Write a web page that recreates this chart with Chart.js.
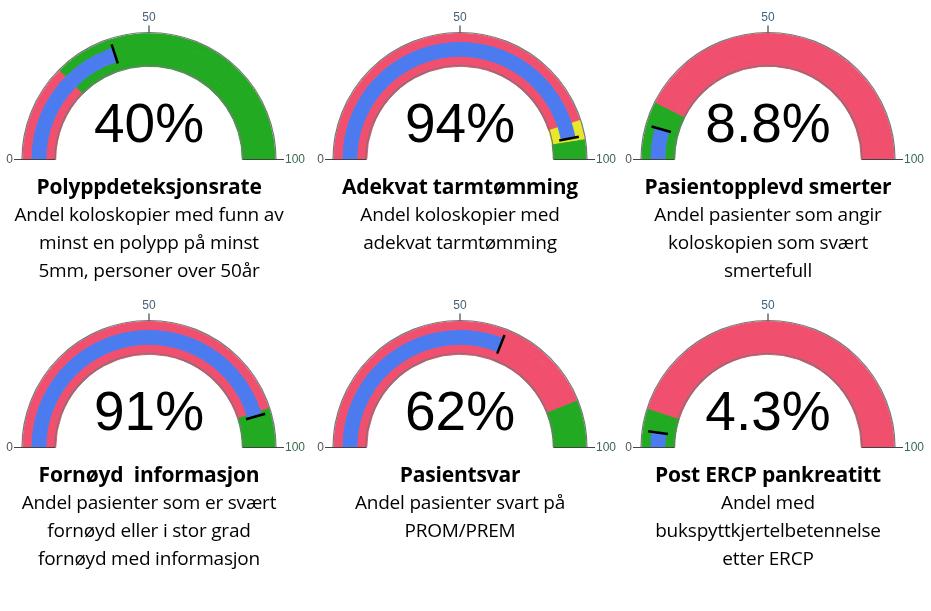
<!DOCTYPE html>
<html><head><meta charset="utf-8">
<script src="https://cdn.jsdelivr.net/npm/chart.js@4"></script>
<style>
body{margin:0;background:#fff;width:931px;height:611px;position:relative;overflow:hidden;font-family:"Open Sans","Noto Sans",sans-serif}
canvas{position:absolute}
.t{position:absolute;width:320px;text-align:center;color:#000;white-space:pre}
.h{font-weight:bold;font-size:21px;letter-spacing:-0.2px}
.s{font-size:19px;line-height:28px;letter-spacing:-0.2px}
.big{position:absolute;width:200px;text-align:center;font-family:"Liberation Sans",Arial,sans-serif;font-size:55px;color:#000}
</style></head><body>
<script>
const titles=["Polyppdeteksjonsrate","Adekvat tarmtømming","Pasientopplevd smerter","Fornøyd  informasjon","Pasientsvar","Post ERCP pankreatitt"];
const subtitles=[["Andel koloskopier med funn av","minst en polypp på minst","5mm, personer over 50år"],["Andel koloskopier med","adekvat tarmtømming"],["Andel pasienter som angir","koloskopien som svært","smertefull"],["Andel pasienter som er svært","fornøyd eller i stor grad","fornøyd med informasjon"],["Andel pasienter svart på","PROM/PREM"],["Andel med","bukspyttkjertelbetennelse","etter ERCP"]];
const values=[40,94,8.8,91,62,4.3];
const valueLabels=["40%","94%","8.8%","91%","62%","4.3%"];
const zoneBounds=[[25,100],[90,95,100],[15,100],[90,100],[88,100],[10,100]];
const zoneColors=[["red","green"],["red","yellow","green"],["green","red"],["red","green"],["red","green"],["green","red"]];
const tickLabels=["0","50","100"];
const COL={red:"#f0506e",green:"#22aa22",yellow:"#e8e82a",blue:"#4b7bef"};
const centers=[[149,160],[460,160],[768,160],[149,448],[460,448],[768,448]];
const R=127,RI=94;
function zoneSeg(b,c){let d=[],p=0;b.forEach(x=>{d.push(x-p);p=x;});const col=c.map(k=>COL[k]);return {data:d,backgroundColor:col,borderColor:col};}
function midSeg(v,b,c){let pts=[...new Set([...b,v])].sort((a,b)=>a-b),d=[],col=[],p=0;
 pts.forEach(x=>{d.push(x-p);let z=b.findIndex(q=>q>=x);col.push(x<=v?COL.blue:COL[c[z]]);p=x;});return {data:d,backgroundColor:col,borderColor:col};}
const deco={id:'deco',afterDatasetsDraw(ch,a,o){const g=ch.getDatasetMeta(0).data[0];const cx=g.x,cy=g.y,ctx=ch.ctx,v=o.value;
 ctx.save();ctx.strokeStyle="#777";ctx.lineWidth=1.2;
 ctx.beginPath();ctx.arc(cx,cy,R,Math.PI,2*Math.PI);ctx.stroke();
 ctx.beginPath();ctx.arc(cx,cy,RI,Math.PI,2*Math.PI);ctx.stroke();
 ctx.strokeStyle="#444";ctx.beginPath();ctx.moveTo(cx-R-8,cy);ctx.lineTo(cx-RI,cy);ctx.moveTo(cx+RI,cy);ctx.lineTo(cx+R+8,cy);
 ctx.moveTo(cx,cy-R);ctx.lineTo(cx,cy-R-7);ctx.stroke();
 ctx.font="12px 'Liberation Sans',Arial";ctx.textBaseline="middle";
 ctx.fillStyle="#555";ctx.textAlign="right";ctx.fillText(tickLabels[0],cx-R-9,cy);
 ctx.fillStyle="#3a6a50";ctx.textAlign="left";ctx.fillText(tickLabels[2],cx+R+9,cy);
 ctx.fillStyle="#44607a";ctx.textAlign="center";ctx.fillText(tickLabels[1],cx,cy-R-15);
 const th=Math.PI+v/100*Math.PI;ctx.strokeStyle="#000";ctx.lineWidth=2.5;ctx.beginPath();
 ctx.moveTo(cx+101*Math.cos(th),cy+101*Math.sin(th));ctx.lineTo(cx+121*Math.cos(th),cy+121*Math.sin(th));ctx.stroke();ctx.restore();}};
centers.forEach(([cx,cy],i)=>{
 const cv=document.createElement('canvas');cv.width=310;cv.height=180;cv.style.left=(cx-149)+'px';cv.style.top=(cy-160)+'px';cv.style.width='310px';cv.style.height='180px';document.body.appendChild(cv);
 const o=zoneSeg(zoneBounds[i],zoneColors[i]),m=midSeg(values[i],zoneBounds[i],zoneColors[i]);
 new Chart(cv,{type:'doughnut',data:{datasets:[{...o,weight:8,borderWidth:1},{...m,weight:15,borderWidth:1},{...o,weight:10,borderWidth:1}]},
 options:{responsive:false,animation:false,rotation:-90,circumference:180,cutout:(RI/R*100)+'%',layout:{padding:{left:22,right:34,top:33,bottom:20}},
 plugins:{legend:{display:false},tooltip:{enabled:false},deco:{value:values[i]}}},plugins:[deco]});
 const b=document.createElement('div');b.className='big';b.textContent=valueLabels[i];b.style.left=(cx-100)+'px';b.style.top=(cy-69)+'px';document.body.appendChild(b);
 const top=cy+12;
 const h=document.createElement('div');h.className='t h';h.style.left=(cx-160)+'px';h.style.top=top+'px';h.textContent=titles[i];document.body.appendChild(h);
 const s=document.createElement('div');s.className='t s';s.style.left=(cx-160)+'px';s.style.top=(top+28)+'px';s.textContent=subtitles[i].join('\n');document.body.appendChild(s);
});
</script></body></html>
